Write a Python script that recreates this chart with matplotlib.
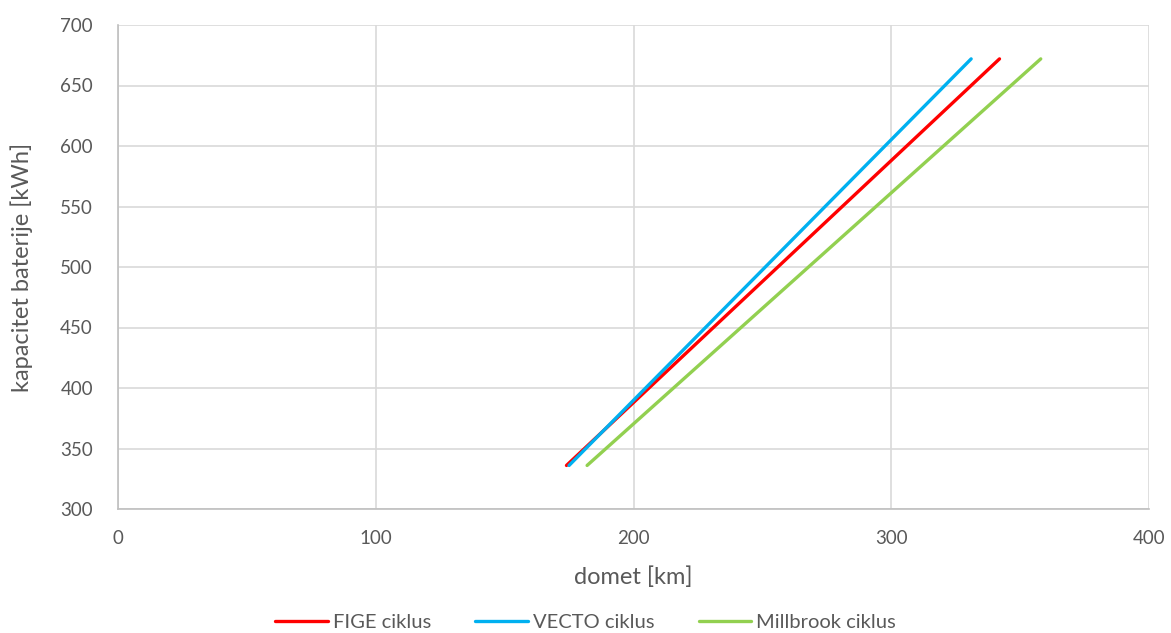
import matplotlib
matplotlib.use("Agg")
import matplotlib.pyplot as plt

# Data
capacity = [336, 672]  # kWh
fige_range = [174, 342]
vecto_range = [175, 331]
millbrook_range = [182, 358]
series_names = ["FIGE ciklus", "VECTO ciklus", "Millbrook ciklus"]
colors = ["#FF0000", "#00B0F0", "#92D050"]

plt.rcParams['font.family'] = ['Lato', 'DejaVu Sans']
text_col = "#595959"

fig = plt.figure(figsize=(11.71, 6.33), dpi=100)
ax = fig.add_axes([118/1171, 1-509/633, (1149-118)/1171, (509-25)/633])

for xs, name, c in zip([fige_range, vecto_range, millbrook_range], series_names, colors):
    ax.plot(xs, capacity, color=c, lw=2.4, solid_capstyle='round', label=name)

ax.set_xlim(0, 400)
ax.set_ylim(300, 700)
ax.set_xticks([0, 100, 200, 300, 400])
ax.set_yticks(range(300, 701, 50))
ax.grid(True, color="#d9d9d9", lw=1.2)
ax.set_axisbelow(True)
for s in ['top', 'right']:
    ax.spines[s].set_visible(False)
for s in ['left', 'bottom']:
    ax.spines[s].set_color("#bfbfbf")
    ax.spines[s].set_linewidth(1.2)
ax.tick_params(length=0, labelsize=13.5, colors=text_col)
ax.tick_params(axis='y', pad=18)
ax.tick_params(axis='x', pad=15)
ax.set_xlabel("domet [km]", fontsize=17, color=text_col)
ax.set_ylabel("kapacitet baterije [kWh]", fontsize=17, color=text_col)
ax.xaxis.set_label_coords(0.5, -(577-509)/484, transform=ax.transAxes)
ax.xaxis.label.set_va('center')
ax.yaxis.set_label_coords(-(118-22)/1031, 0.5, transform=ax.transAxes)
ax.yaxis.label.set_va('center')

leg = fig.legend(loc='center', bbox_to_anchor=(0.5, 1-622/633), ncol=3, frameon=False,
                 fontsize=14.5, handlelength=2.6, handletextpad=0.25, columnspacing=2.2)
for t in leg.get_texts():
    t.set_color(text_col)

fig.savefig("out.png", dpi=100)
